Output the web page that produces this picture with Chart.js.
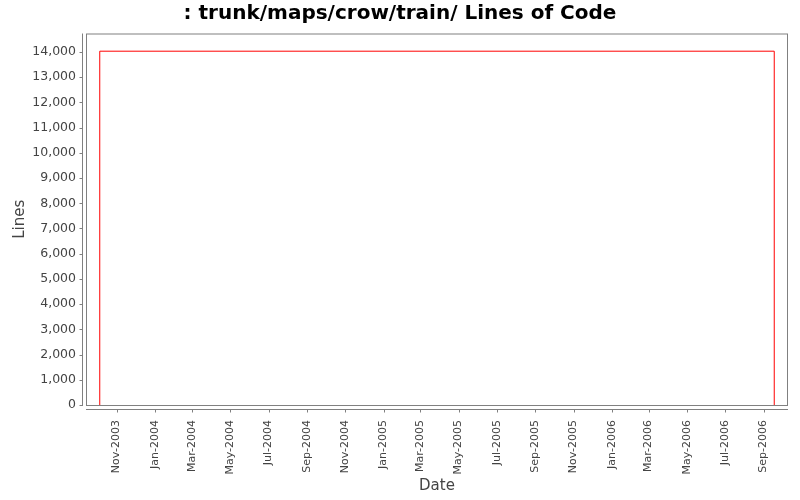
<!DOCTYPE html>
<html>
<head>
<meta charset="utf-8">
<title>Lines of Code</title>
<script src="https://cdn.jsdelivr.net/npm/chart.js@4.4.1/dist/chart.umd.min.js"></script>
<style>
    html, body { margin: 0; padding: 0; background: #fff; }
    #wrap { width: 800px; height: 500px; }
</style>
</head>
<body>
<div id="wrap"><canvas id="locChart"></canvas></div>
<script>
// data
const commitDates = ['2003-10-05', '2003-10-05', '2006-09-18'];
const lineCounts = [0, 14030, 0];
const monthLabels = ['Nov-2003', 'Jan-2004', 'Mar-2004', 'May-2004', 'Jul-2004', 'Sep-2004',
    'Nov-2004', 'Jan-2005', 'Mar-2005', 'May-2005', 'Jul-2005', 'Sep-2005',
    'Nov-2005', 'Jan-2006', 'Mar-2006', 'May-2006', 'Jul-2006', 'Sep-2006'];
const lineTicks = [0, 1000, 2000, 3000, 4000, 5000, 6000, 7000, 8000, 9000, 10000, 11000, 12000, 13000, 14000];
const dateRange = ['2003-09-13', '2006-10-10'];

const MONTHS = ['Jan', 'Feb', 'Mar', 'Apr', 'May', 'Jun', 'Jul', 'Aug', 'Sep', 'Oct', 'Nov', 'Dec'];
const DAY = 86400000;

function toDay(s) {
    return Date.parse(s + 'T00:00:00Z') / DAY;
}

function monthToDay(label) {
    const [m, y] = label.split('-');
    return Date.UTC(parseInt(y), MONTHS.indexOf(m), 1) / DAY;
}

function dayToLabel(d) {
    const dt = new Date(d * DAY);
    return MONTHS[dt.getUTCMonth()] + '-' + dt.getUTCFullYear();
}

const points = commitDates.map((d, i) => ({ x: toDay(d), y: lineCounts[i] }));

const axisColor = '#808080';
const textColor = '#444444';

// JFreeChart style frame: plot outline plus axes drawn a few pixels away from it
const framePlugin = {
    id: 'frame',
    beforeDatasetsDraw(chart) {
        const { ctx, chartArea: a, scales } = chart;
        ctx.save();
        ctx.strokeStyle = axisColor;
        ctx.lineWidth = 1;
        ctx.strokeRect(a.left + 0.5, a.top + 0.5, a.right - a.left - 1, a.bottom - a.top);

        // y axis
        const yx = a.left - 3.5;
        ctx.beginPath();
        ctx.moveTo(yx, a.top);
        ctx.lineTo(yx, a.bottom + 1);
        scales.y.ticks.forEach(t => {
            const py = Math.round(scales.y.getPixelForValue(t.value)) + 0.5;
            ctx.moveTo(yx, py);
            ctx.lineTo(yx - 3, py);
        });
        // x axis
        const xy = a.bottom + 4.5;
        ctx.moveTo(a.left, xy);
        ctx.lineTo(a.right, xy);
        scales.x.ticks.forEach(t => {
            const px = Math.round(scales.x.getPixelForValue(t.value)) + 0.5;
            ctx.moveTo(px, xy);
            ctx.lineTo(px, xy + 3);
        });
        ctx.stroke();
        ctx.restore();
    }
};

new Chart(document.getElementById('locChart'), {
    type: 'line',
    data: {
        datasets: [{
            label: 'Lines',
            data: points,
            borderColor: '#ff0000',
            borderWidth: 1,
            pointRadius: 0,
            fill: false,
            stepped: true,
            tension: 0
        }]
    },
    options: {
        responsive: true,
        maintainAspectRatio: false,
        animation: false,
        layout: {
            padding: 0
        },
        plugins: {
            legend: { display: false },
            tooltip: { enabled: false },
            title: {
                display: true,
                text: ': trunk/maps/crow/train/ Lines of Code',
                color: '#000',
                font: { family: 'DejaVu Sans', size: 20, weight: 'bold' },
                padding: { top: 2, bottom: 7.5 }
            }
        },
        scales: {
            x: {
                type: 'linear',
                min: toDay(dateRange[0]),
                max: toDay(dateRange[1]),
                border: { display: false },
                grid: { display: false, drawTicks: false },
                afterBuildTicks(scale) {
                    scale.ticks = monthLabels.map(l => ({ value: monthToDay(l) }));
                },
                afterFit(scale) {
                    scale.height = 95;
                },
                ticks: {
                    autoSkip: false,
                    minRotation: 90,
                    maxRotation: 90,
                    padding: 15,
                    color: textColor,
                    font: { family: 'DejaVu Sans', size: 11 },
                    callback: v => dayToLabel(v)
                },
                title: {
                    display: true,
                    text: 'Date',
                    color: textColor,
                    font: { family: 'DejaVu Sans', size: 15 },
                    padding: { top: 0, bottom: 5 }
                }
            },
            y: {
                min: 0,
                max: Math.max(...lineCounts) * 1.05,
                border: { display: false },
                grid: { display: false, drawTicks: false },
                afterBuildTicks(scale) {
                    scale.ticks = lineTicks.map(v => ({ value: v }));
                },
                afterFit(scale) {
                    scale.width = 86;
                },
                ticks: {
                    padding: 10,
                    color: textColor,
                    font: { family: 'DejaVu Sans', size: 12.5 },
                    callback: v => v.toLocaleString('en-US')
                },
                title: {
                    display: true,
                    text: 'Lines',
                    color: textColor,
                    font: { family: 'DejaVu Sans', size: 15 },
                    padding: { top: 11, bottom: 0 }
                }
            },
            // empty right-hand margin so the title stays centred on the page
            margin: {
                position: 'right',
                min: 0,
                max: 1,
                border: { display: false },
                grid: { display: false, drawTicks: false },
                ticks: { display: false },
                afterFit(scale) {
                    scale.width = 12;
                }
            }
        }
    },
    plugins: [framePlugin]
});
</script>
</body>
</html>
